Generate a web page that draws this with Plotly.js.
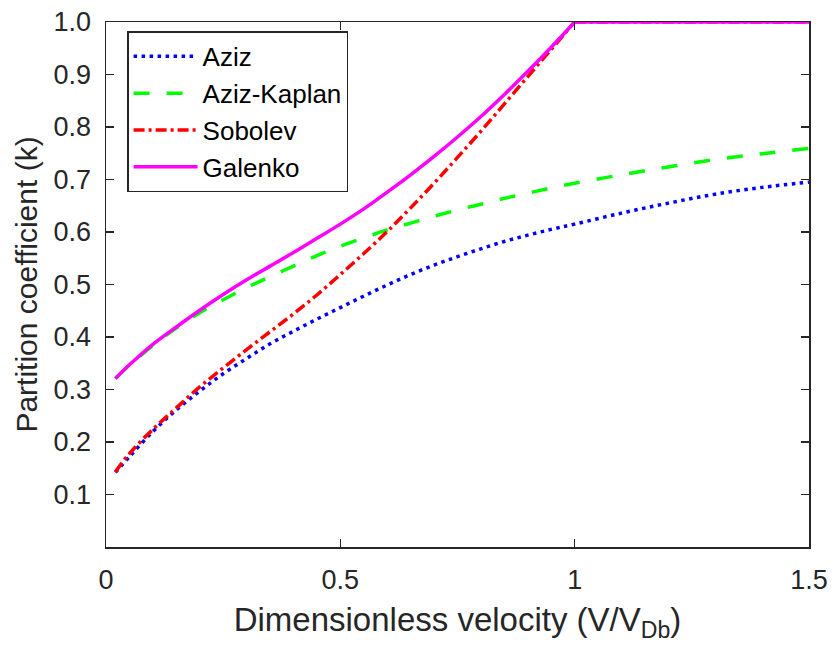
<!DOCTYPE html>
<html>
<head>
<meta charset="utf-8">
<script src="https://cdn.plot.ly/plotly-3.0.1.min.js"></script>
<style>html,body{margin:0;padding:0;background:#fff;}#chart{width:834px;height:646px;}</style>
</head>
<body>
<div id="chart"></div>
<script>
// Dimensionless velocity V/V_Db (full range and rising part up to V = V_Db)
const velocity     = [0.02, 0.05, 0.1, 0.15, 0.2, 0.25, 0.3, 0.35, 0.4, 0.45, 0.5, 0.55, 0.6, 0.65, 0.7, 0.75, 0.8, 0.85, 0.9, 0.95, 1.0, 1.1, 1.2, 1.3, 1.4, 1.5];
const velocityRise = [0.02, 0.05, 0.1, 0.15, 0.2, 0.25, 0.3, 0.35, 0.4, 0.45, 0.5, 0.55, 0.6, 0.65, 0.7, 0.75, 0.8, 0.85, 0.9, 0.95, 1.0];
const velocityPlateau = [1.0, 1.5];

const aziz       = [0.142, 0.172, 0.220, 0.261, 0.297, 0.330, 0.359, 0.387, 0.411, 0.434, 0.456, 0.478, 0.499, 0.519, 0.537, 0.553, 0.568, 0.582, 0.594, 0.605, 0.615, 0.636, 0.655, 0.672, 0.685, 0.695];
const azizKaplan = [0.321, 0.346, 0.384, 0.417, 0.446, 0.471, 0.494, 0.515, 0.535, 0.555, 0.573, 0.589, 0.604, 0.617, 0.630, 0.642, 0.653, 0.664, 0.674, 0.684, 0.693, 0.709, 0.724, 0.738, 0.749, 0.759];
const sobolevRise  = [0.143, 0.178, 0.224, 0.265, 0.305, 0.341, 0.376, 0.410, 0.444, 0.480, 0.519, 0.559, 0.601, 0.646, 0.693, 0.742, 0.792, 0.844, 0.896, 0.948, 1.0];
const galenkoRise  = [0.321, 0.347, 0.386, 0.419, 0.451, 0.481, 0.509, 0.535, 0.561, 0.588, 0.615, 0.644, 0.676, 0.709, 0.744, 0.781, 0.820, 0.862, 0.906, 0.952, 1.0];
const plateauK     = [1.0, 1.0];

const seriesNames = ['Aziz', 'Aziz-Kaplan', 'Sobolev', 'Galenko'];
const seriesColors = ['#0000ff', '#00ff00', '#ff0000', '#ff00ff'];
const xTickVals = [0, 0.5, 1, 1.5];
const xTickText = ['0', '0.5', '1', '1.5'];
const yTickVals = [0.1, 0.2, 0.3, 0.4, 0.5, 0.6, 0.7, 0.8, 0.9, 1.0];
const yTickText = ['0.1', '0.2', '0.3', '0.4', '0.5', '0.6', '0.7', '0.8', '0.9', '1.0'];

const FONT = 'Liberation Sans, Arial, sans-serif';
const AX = '#262626';
const LW = 3.5;
const dotDash = '3.5px,4.5px';
const longDash = '16px,17px';
const dashDot = '11px,4px,3px,4px';

const traces = [
  {x: velocity, y: aziz, name: seriesNames[0], legendgroup: 'a', mode: 'lines',
   line: {color: seriesColors[0], width: LW, dash: dotDash, shape: 'spline', smoothing: 1}},
  {x: velocity, y: azizKaplan, name: seriesNames[1], legendgroup: 'ak', mode: 'lines',
   line: {color: seriesColors[1], width: LW, dash: longDash, shape: 'spline', smoothing: 1}},
  {x: velocityRise, y: sobolevRise, name: seriesNames[2], legendgroup: 's', mode: 'lines',
   line: {color: seriesColors[2], width: LW, dash: dashDot, shape: 'spline', smoothing: 1}},
  {x: velocityPlateau, y: plateauK, name: seriesNames[2], legendgroup: 's', showlegend: false, mode: 'lines',
   line: {color: seriesColors[2], width: LW, dash: dashDot}},
  {x: velocityRise, y: galenkoRise, name: seriesNames[3], legendgroup: 'g', mode: 'lines',
   line: {color: seriesColors[3], width: LW, shape: 'spline', smoothing: 1}},
  {x: velocityPlateau, y: plateauK, name: seriesNames[3], legendgroup: 'g', showlegend: false, mode: 'lines',
   line: {color: seriesColors[3], width: LW}}
];

const layout = {
  width: 834, height: 646,
  margin: {l: 106, r: 25, t: 22, b: 99},
  paper_bgcolor: '#ffffff', plot_bgcolor: '#ffffff',
  font: {family: FONT, color: AX},
  showlegend: true,
  legend: {
    x: 0.030, y: 0.982, xanchor: 'left', yanchor: 'top',
    bgcolor: '#ffffff', bordercolor: AX, borderwidth: 1.5,
    font: {family: FONT, size: 26, color: '#000000'},
    itemwidth: 64, tracegroupgap: 0
  },
  xaxis: {
    range: [0, 1.5], tickvals: xTickVals, ticktext: xTickText,
    ticks: 'inside', ticklen: 8, tickwidth: 1.5, tickcolor: AX,
    showline: true, linecolor: AX, linewidth: 1.5, mirror: 'ticks',
    showgrid: false, zeroline: false,
    tickfont: {family: FONT, size: 27, color: AX},
    ticklabelstandoff: 8,
    title: {text: 'Dimensionless velocity (V/V<sub>Db</sub>)', font: {family: FONT, size: 33, color: AX}, standoff: 14}
  },
  yaxis: {
    range: [0, 1], tickvals: yTickVals, ticktext: yTickText,
    ticks: 'inside', ticklen: 8, tickwidth: 1.5, tickcolor: AX,
    showline: true, linecolor: AX, linewidth: 1.5, mirror: 'ticks',
    showgrid: false, zeroline: false,
    tickfont: {family: FONT, size: 27, color: AX},
    ticklabelstandoff: 8,
    title: {text: 'Partition coefficient (k)', font: {family: FONT, size: 30, color: AX}, standoff: 7}
  }
};

Plotly.newPlot('chart', traces, layout, {displayModeBar: false, staticPlot: true});
</script>
</body>
</html>
